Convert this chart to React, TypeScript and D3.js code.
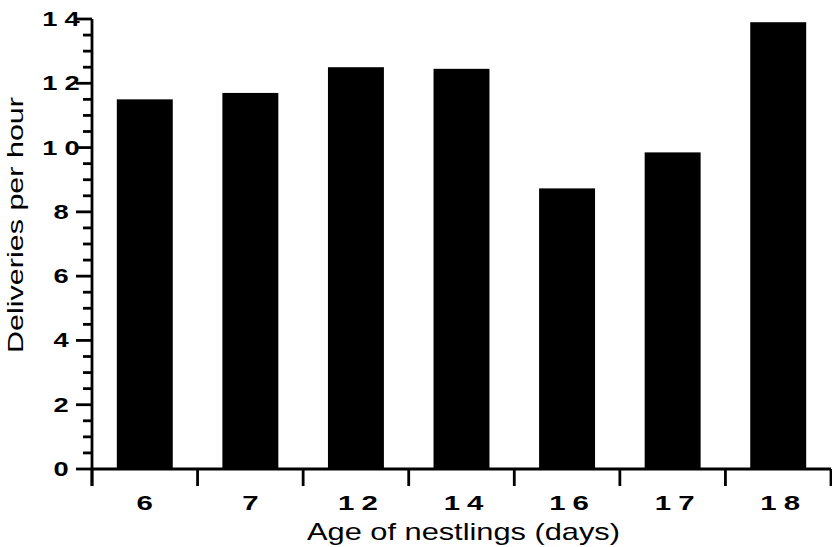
import React from "react";
import * as d3 from "d3";

const categories = ["6", "7", "12", "14", "16", "17", "18"];
const values = [11.5, 11.7, 12.5, 12.45, 8.73, 9.85, 13.9];
const yMajorTicks = [0, 2, 4, 6, 8, 10, 12, 14];

const W = 832;
const H = 547;
const left = 92;
const right = 831;
const top = 19;
const bottom = 469;

export default function App() {
  const x = d3.scaleBand<string>().domain(categories).range([left, right]).paddingInner(0.47).paddingOuter(0.235);
  const xb = d3.scaleBand<string>().domain(categories).range([left, right]);
  const y = d3.scaleLinear().domain([0, 14]).range([bottom, top]);
  const minor = d3.range(0, 14.001, 0.5).filter((v) => Math.abs(v % 2) > 1e-6);
  const boundaries = [...categories.map((c) => xb(c) as number), right];
  const font = "'Liberation Sans', Arial, Helvetica, sans-serif";
  const sx = 1.4;
  const ls = 5;

  return (
    <svg width={W} height={H} style={{ display: "block", position: "absolute", left: 0, top: 0 }}>
      <rect x={0} y={0} width={W} height={H} fill="#fff" />
      {categories.map((c, i) => (
        <rect key={c} x={x(c)} y={y(values[i])} width={x.bandwidth()} height={bottom - y(values[i])} fill="#000" />
      ))}
      {/* y axis */}
      <line x1={left} x2={left} y1={top} y2={486} stroke="#000" strokeWidth={2.8} />
      {yMajorTicks.map((t) => (
        <line key={"M" + t} x1={76} x2={left} y1={y(t)} y2={y(t)} stroke="#000" strokeWidth={2.8} />
      ))}
      {minor.map((t) => (
        <line key={"m" + t} x1={83} x2={left} y1={y(t)} y2={y(t)} stroke="#000" strokeWidth={2.8} />
      ))}
      {yMajorTicks.map((t) => {
        const two = t >= 10;
        return (
          <text
            key={"l" + t}
            transform={`translate(${61 + (two ? (ls * sx) / 2 : 0)},${y(t) + 7}) scale(${sx},1)`}
            textAnchor="middle"
            fontFamily={font}
            fontWeight="bold"
            fontSize={19.5}
            letterSpacing={two ? ls : 0}
          >
            {String(t)}
          </text>
        );
      })}
      {/* x axis */}
      <line x1={left} x2={right} y1={bottom} y2={bottom} stroke="#000" strokeWidth={2.8} />
      {boundaries.map((b, i) => (
        <line key={"xt" + i} x1={b} x2={b} y1={bottom} y2={486} stroke="#000" strokeWidth={2.8} />
      ))}
      {categories.map((c) => {
        const two = c.length > 1;
        return (
          <text
            key={"xl" + c}
            transform={`translate(${(xb(c) as number) + xb.bandwidth() / 2 + (two ? (ls * sx) / 2 + 2 : 0)},${510}) scale(${sx},1)`}
            textAnchor="middle"
            fontFamily={font}
            fontWeight="bold"
            fontSize={21}
            letterSpacing={two ? ls : 0}
          >
            {c}
          </text>
        );
      })}
      <text
        x={307}
        y={539.5}
        fontFamily={font}
        fontSize={24}
        textLength={313}
        lengthAdjust="spacingAndGlyphs"
      >
        Age of nestlings (days)
      </text>
      <text
        transform={`translate(23,353) rotate(-90)`}
        fontFamily={font}
        fontSize={22}
        textLength={256}
        lengthAdjust="spacingAndGlyphs"
      >
        Deliveries per hour
      </text>
    </svg>
  );
}
